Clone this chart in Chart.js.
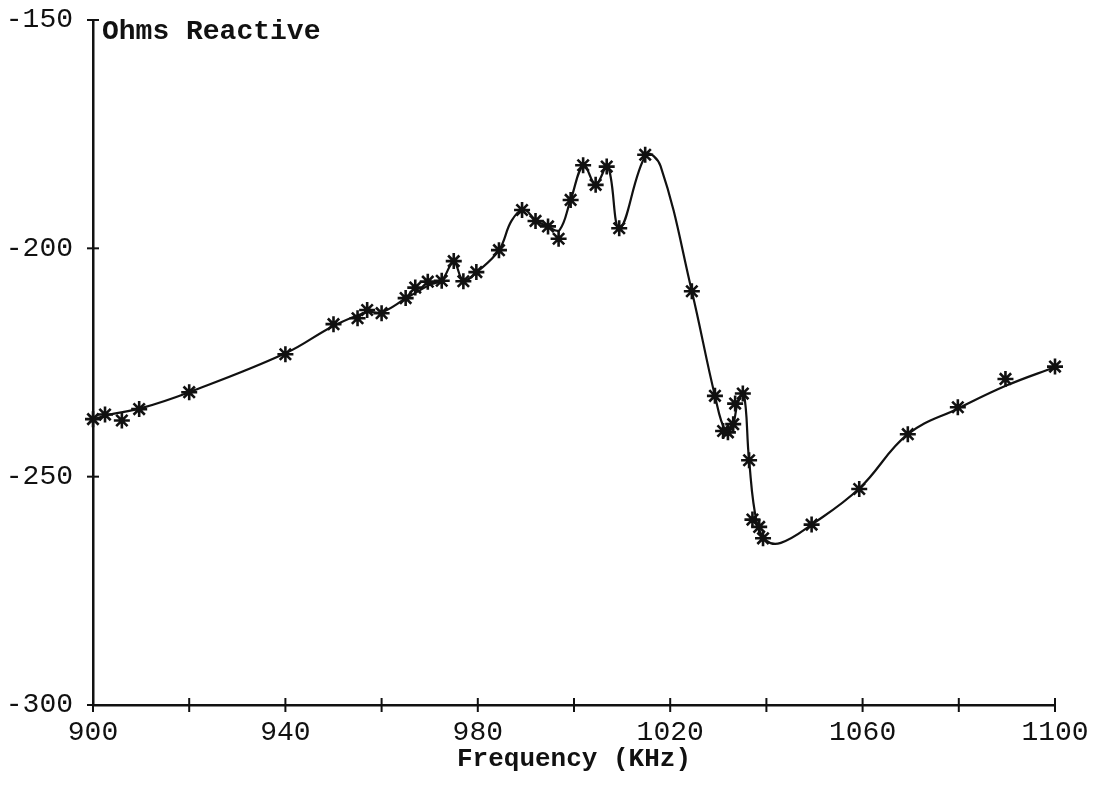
<!DOCTYPE html>
<html>
<head>
<meta charset="utf-8">
<script src="https://cdn.jsdelivr.net/npm/chart.js@4"></script>
<style>
  html, body { margin: 0; padding: 0; background: #fff; }
  #wrap { width: 1099px; height: 788px; }
</style>
</head>
<body>
<div id="wrap"><canvas id="reactChart" width="1099" height="788"></canvas></div>
<script>
// measured points (asterisks)
var measFreq = [900, 902.5, 906, 909.6, 920, 940, 950, 955, 957, 960, 965, 967, 969.6, 972.5, 975, 977, 979.7,
                984.4, 989.2, 992, 994.6, 996.8, 999.3, 1001.9, 1004.5, 1006.8, 1009.4, 1014.8, 1024.5, 1029.3,
                1031, 1032, 1033.1, 1033.5, 1035.1, 1036.4, 1037.1, 1038.5, 1039.3, 1049.4, 1059.3, 1069.4,
                1079.8, 1089.7, 1100];
var measOhms = [-237.4, -236.4, -237.7, -235.2, -231.5, -223.2, -216.6, -215.3, -213.5, -214.2, -210.9, -208.6, -207.3,
                -207.1, -202.8, -207.2, -205.2, -200.4, -191.6, -194, -195.2, -197.9, -189.4, -181.8, -186.1,
                -182.1, -195.6, -179.5, -209.4, -232.3, -240, -240.3, -238.5, -234, -231.8, -246.4, -259.4,
                -261, -263.5, -260.5, -252.7, -240.7, -234.8, -228.6, -225.9];

// hand-drawn smooth curve
var curveFreq = [900, 903, 910, 920, 940, 950, 957, 960, 965, 970, 972.5, 975, 977, 980, 984.4, 987, 989.5, 992,
                 995, 997, 999.3, 1002, 1004.5, 1007, 1009.5, 1015, 1018, 1024.5, 1029.3, 1031.5, 1033, 1034,
                 1035.3, 1036.4, 1038, 1040, 1043, 1049.4, 1059.3, 1069.4, 1080, 1090, 1100];
var curveOhms = [-237.5, -236.5, -235, -231.5, -223, -217, -214, -214, -211, -208, -207, -203, -207, -205, -200.4,
                 -194, -191.5, -193.8, -195.5, -196, -189.4, -181.8, -186, -182, -195.6, -179.5, -182, -209.4,
                 -232.3, -240, -238.8, -234, -231.8, -246.4, -260, -264, -264.5, -260.5, -252.6, -240.7,
                 -235, -230, -226];

var xTicks = [900, 940, 980, 1020, 1060, 1100];
var yTicks = [-150, -200, -250, -300];

function toXY(xs, ys) {
    var out = [];
    for (var i = 0; i < xs.length; i++) {
        out.push({x: xs[i], y: ys[i]});
    }
    return out;
}

var monoFont = "'Liberation Mono', 'DejaVu Sans Mono', monospace";

// cross-shaped tick marks on both axes + label inside the plot
var axisMarks = {
    id: 'axisMarks',
    afterDraw: function(chart) {
        var ctx = chart.ctx;
        var xs = chart.scales.x, ys = chart.scales.y;
        var area = chart.chartArea;
        ctx.save();
        ctx.strokeStyle = '#111';
        ctx.lineWidth = 2;
        xs.ticks.forEach(function(t) {
            var px = xs.getPixelForValue(t.value);
            ctx.beginPath();
            ctx.moveTo(px, area.bottom - 7);
            ctx.lineTo(px, area.bottom + 7);
            ctx.stroke();
        });
        ys.ticks.forEach(function(t) {
            var py = ys.getPixelForValue(t.value);
            ctx.beginPath();
            ctx.moveTo(area.left - 6, py);
            ctx.lineTo(area.left + 6, py);
            ctx.stroke();
        });
        ctx.fillStyle = '#111';
        ctx.font = "bold 28px " + monoFont;
        ctx.textBaseline = 'middle';
        ctx.fillText('Ohms Reactive', area.left + 9, area.top + 12);
        ctx.restore();
    }
};

var ctx = document.getElementById('reactChart').getContext('2d');

new Chart(ctx, {
    type: 'scatter',
    data: {
        datasets: [
            {
                label: 'curve',
                data: toXY(curveFreq, curveOhms),
                showLine: true,
                borderColor: '#111',
                borderWidth: 2.2,
                tension: 0.4,
                pointRadius: 0,
                fill: false
            },
            {
                label: 'measured',
                data: toXY(measFreq, measOhms),
                showLine: false,
                pointStyle: 'star',
                pointRadius: 8,
                borderColor: '#111',
                borderWidth: 2.6,
                backgroundColor: '#111'
            }
        ]
    },
    options: {
        responsive: false,
        animation: false,
        clip: false,
        layout: { padding: { left: 0, right: 44, top: 20, bottom: 13 } },
        plugins: {
            legend: { display: false },
            tooltip: { enabled: false }
        },
        scales: {
            x: {
                type: 'linear',
                min: 900,
                max: 1100,
                border: { display: true, color: '#111', width: 2.5 },
                grid: { display: false },
                ticks: {
                    stepSize: 20,
                    color: '#111',
                    padding: 3,
                    maxRotation: 0,
                    font: { family: monoFont, size: 28 },
                    callback: function(v) { return xTicks.indexOf(v) >= 0 ? String(v) : ''; }
                },
                title: {
                    display: true,
                    text: 'Frequency (KHz)',
                    color: '#111',
                    padding: { top: 0, bottom: 0 },
                    font: { family: monoFont, size: 26, weight: 'bold' }
                },
                afterFit: function(s) { s.height = 70; }
            },
            y: {
                type: 'linear',
                min: -300,
                max: -150,
                border: { display: true, color: '#111', width: 2.5 },
                grid: { display: false },
                ticks: {
                    stepSize: 50,
                    color: '#111',
                    padding: 12,
                    font: { family: monoFont, size: 28 },
                    callback: function(v) { return yTicks.indexOf(v) >= 0 ? String(v) : ''; }
                },
                afterFit: function(s) {
                    s.width = 93;
                    s.paddingTop = 0;
                    s.paddingBottom = 0;
                }
            }
        }
    },
    plugins: [axisMarks]
});
</script>
</body>
</html>
